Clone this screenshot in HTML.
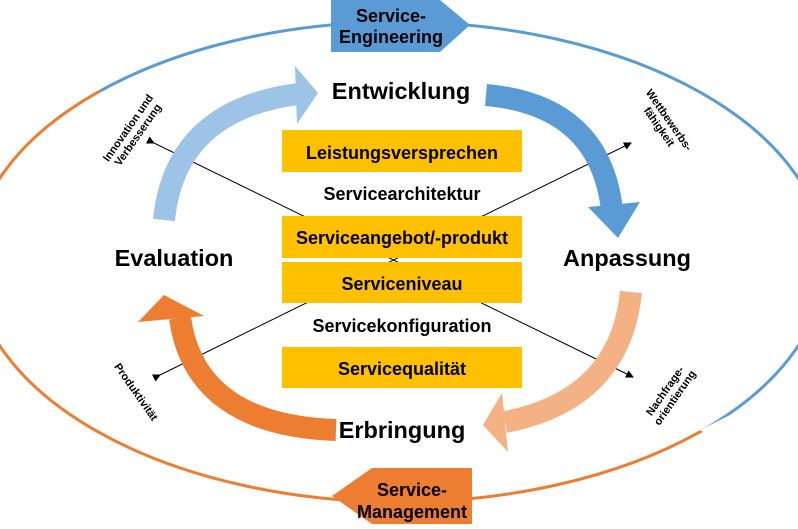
<!DOCTYPE html>
<html><head><meta charset="utf-8"><style>
body{margin:0;background:#fff;width:798px;height:524px;overflow:hidden}
svg text{font-family:"Liberation Sans",Arial,sans-serif;font-weight:bold}
</style></head><body>
<svg width="798" height="524" viewBox="0 0 798 524">
<defs>
<clipPath id="cb"><polygon points="-50,-50 900,-50 900,330 700,430 98,90 -50,90"/></clipPath>
<clipPath id="co"><polygon points="-50,90 98,90 705,433 900,433 900,600 -50,600"/></clipPath>
<marker id="ar" markerWidth="8" markerHeight="8" refX="7" refY="4" orient="auto" markerUnits="userSpaceOnUse"><path d="M0,0 L8,4 L0,8z" fill="#000"/></marker>
</defs>
<ellipse cx="399" cy="262" rx="426" ry="240" fill="none" stroke="#5B9BD5" stroke-width="3" clip-path="url(#cb)"/>
<ellipse cx="399" cy="262" rx="426" ry="240" fill="none" stroke="#ED7D31" stroke-width="3" clip-path="url(#co)"/>
<line x1="160" y1="375" x2="631" y2="143" stroke="#000" stroke-width="1" marker-start="url(#ar)" marker-end="url(#ar)"/>
<line x1="154" y1="143" x2="633" y2="377" stroke="#000" stroke-width="1" marker-start="url(#ar)" marker-end="url(#ar)"/>
<path d="M164,220 Q175,110 298,94" fill="none" stroke="#9DC3E6" stroke-width="22"/>
<polygon points="295,66 318,93 297,124" fill="#9DC3E6"/>
<path d="M486,95 Q600,105 612,210" fill="none" stroke="#5B9BD5" stroke-width="22"/>
<polygon points="588,207 640,202 618,238" fill="#5B9BD5"/>
<path d="M631,292 Q620,400 505,422" fill="none" stroke="#F4B183" stroke-width="22"/>
<polygon points="502,393 483,425 508,452" fill="#F4B183"/>
<path d="M336,430 Q195,425 180,318" fill="none" stroke="#ED7D31" stroke-width="22"/>
<polygon points="138,322 164,295 204,316" fill="#ED7D31"/>
<polygon points="331,0 440,0 470,25 440,52 331,52" fill="#5B9BD5"/>
<text x="391" y="22" font-size="18" text-anchor="middle">Service-</text>
<text x="391" y="43" font-size="18" text-anchor="middle">Engineering</text>
<polygon points="372,468 472,468 472,524 372,524 332,496" fill="#ED7D31"/>
<text x="412" y="496" font-size="18" text-anchor="middle">Service-</text>
<text x="412" y="518" font-size="18" text-anchor="middle">Management</text>
<rect x="282" y="130" width="240" height="42" fill="#FFC000"/>
<rect x="282" y="216" width="240" height="42" fill="#FFC000"/>
<rect x="282" y="262" width="240" height="41" fill="#FFC000"/>
<rect x="282" y="347" width="240" height="41" fill="#FFC000"/>
<g font-size="18" text-anchor="middle">
<text x="402" y="159">Leistungsversprechen</text>
<text x="402" y="200">Servicearchitektur</text>
<text x="402" y="244">Serviceangebot/-produkt</text>
<text x="402" y="290">Serviceniveau</text>
<text x="402" y="332">Servicekonfiguration</text>
<text x="402" y="375">Servicequalität</text>
</g>
<g font-size="23.5" text-anchor="middle">
<text x="401" y="99">Entwicklung</text>
<text x="174" y="266">Evaluation</text>
<text x="627" y="266">Anpassung</text>
<text x="402" y="438">Erbringung</text>
</g>
<g font-size="11">
<text transform="translate(131,130) rotate(-55)" text-anchor="middle"><tspan x="0" y="0">Innovation und</tspan><tspan x="0" y="12">Verbesserung</tspan></text>
<text transform="translate(666,122) rotate(55)" text-anchor="middle"><tspan x="0" y="0">Wettbewerbs-</tspan><tspan x="0" y="12">fähigkeit</tspan></text>
<text transform="translate(133,394) rotate(55)" text-anchor="middle">Produktivität</text>
<text transform="translate(668,393) rotate(-55)" text-anchor="middle"><tspan x="0" y="0">Nachfrage-</tspan><tspan x="0" y="12">orientierung</tspan></text>
</g>
</svg>
</body></html>
